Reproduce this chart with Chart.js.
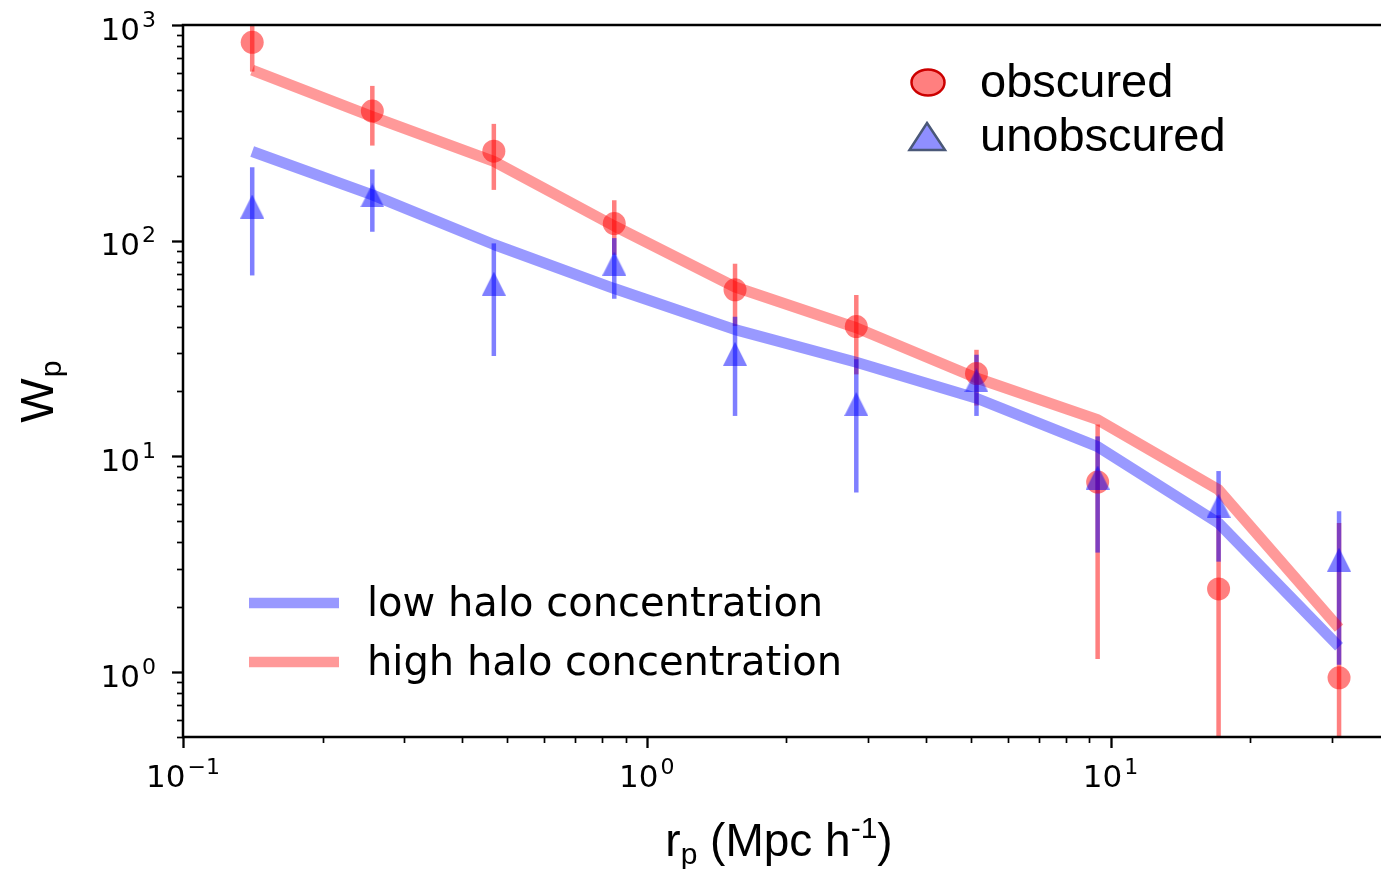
<!DOCTYPE html>
<html>
<head>
<meta charset="utf-8">
<title>Projected correlation function</title>
<script src="https://cdn.jsdelivr.net/npm/chart.js@4/dist/chart.umd.min.js"></script>
<style>
  html, body { margin: 0; padding: 0; background: #ffffff; }
  canvas { display: block; }
</style>
</head>
<body>
<canvas id="c" width="1381" height="869"></canvas>
<script>
// projected separation bins, r_p in Mpc/h
const rp = [0.141, 0.256, 0.468, 0.851, 1.55, 2.83, 5.14, 9.38, 17.1, 31.1];

// measured w_p and 1-sigma errors
const wpObscured    = [831, 399, 260, 120, 59.2, 40.0, 24.2, 7.6, 2.43, 0.94];
const errObscured   = [223, 123, 88, 34, 19, 16, 7.0, 6.45, 2.9, 3.97];
const wpUnobscured  = [144, 162, 63.2, 78.3, 29.9, 17.5, 22.5, 7.98, 5.9, 3.32];
const errUnobscured = [75, 52, 34, 24.5, 14.5, 10.7, 7.1, 4.4, 2.65, 2.24];

// halo model predictions
const wpHighConc = [618, 376, 233, 117, 61, 39.5, 23.1, 14.8, 7.0, 1.6];
const wpLowConc  = [259, 163, 96, 60, 38.7, 27.3, 18.6, 11.1, 4.9, 1.31];

// axis ranges and decade tick labels
const xRange = [0.1, 38.3];
const yRange = [0.5, 1000];
const xDecades = [-1, 0, 1];
const yDecades = [0, 1, 2, 3];

const pts = (xs, ys) => xs.map((x, i) => ({ x: x, y: ys[i] }));

function triangleMarker(size, fill) {
  const c = document.createElement('canvas');
  c.width = size; c.height = size;
  const g = c.getContext('2d');
  g.fillStyle = fill;
  g.beginPath();
  g.moveTo(size / 2, 0);
  g.lineTo(size, size);
  g.lineTo(0, size);
  g.closePath();
  g.fill();
  return c;
}

const RED_PT = 'rgba(255,0,0,0.5)';
const BLUE_PT = 'rgba(0,0,255,0.5)';
const RED_LN = 'rgba(255,0,0,0.4)';
const BLUE_LN = 'rgba(0,0,255,0.4)';

const errorSets = [
  { values: wpObscured, errs: errObscured, color: RED_PT },
  { values: wpUnobscured, errs: errUnobscured, color: BLUE_PT }
];

function minorValues(lo, hi) {
  const out = [];
  for (let e = -2; e <= 4; e++) {
    for (let m = 1; m <= 9; m++) {
      const v = m * Math.pow(10, e);
      if (v >= lo * 0.9999 && v <= hi * 1.0001) out.push({ v: v, major: m === 1 });
    }
  }
  return out;
}

function drawPow(ctx, exp, x, y, align) {
  const base = 31, sup = 22, gap = 2, raise = 13;
  ctx.font = base + 'px "DejaVu Sans"';
  const wb = ctx.measureText('10').width;
  ctx.font = sup + 'px "DejaVu Sans"';
  const ws = ctx.measureText(exp).width;
  const total = wb + gap + ws;
  const x0 = align === 'center' ? x - total / 2 : x - total;
  ctx.textAlign = 'left';
  ctx.textBaseline = 'alphabetic';
  ctx.font = base + 'px "DejaVu Sans"';
  ctx.fillText('10', x0, y);
  ctx.font = sup + 'px "DejaVu Sans"';
  ctx.fillText(exp, x0 + wb + gap, y - raise);
}

const expText = e => (e < 0 ? '\u2212' + Math.abs(e) : String(e));

const decor = {
  id: 'decor',
  beforeDatasetsDraw(chart) {
    const ctx = chart.ctx, a = chart.chartArea;
    const xs = chart.scales.x, ys = chart.scales.y;
    ctx.save();
    ctx.beginPath();
    ctx.rect(a.left, a.top, a.right - a.left, a.bottom - a.top);
    ctx.clip();
    ctx.lineWidth = 4.5;
    ctx.lineCap = 'butt';
    errorSets.forEach(s => {
      ctx.strokeStyle = s.color;
      s.values.forEach((v, i) => {
        const px = xs.getPixelForValue(rp[i]);
        const hi = v + s.errs[i];
        const lo = v - s.errs[i];
        const pyHi = ys.getPixelForValue(hi);
        const pyLo = lo > 0 ? ys.getPixelForValue(lo) : a.bottom + 10;
        ctx.beginPath();
        ctx.moveTo(px, pyLo);
        ctx.lineTo(px, pyHi);
        ctx.stroke();
      });
    });
    ctx.restore();
  },
  afterDraw(chart) {
    const ctx = chart.ctx, a = chart.chartArea;
    const xs = chart.scales.x, ys = chart.scales.y;
    ctx.save();
    ctx.strokeStyle = '#000';
    ctx.fillStyle = '#000';

    // spines: left, bottom, top
    ctx.lineWidth = 2.5;
    ctx.lineCap = 'square';
    ctx.beginPath();
    ctx.moveTo(a.right + 2, a.top);
    ctx.lineTo(a.left, a.top);
    ctx.lineTo(a.left, a.bottom);
    ctx.lineTo(a.right + 2, a.bottom);
    ctx.stroke();
    ctx.lineCap = 'butt';

    // y ticks
    minorValues(yRange[0], yRange[1]).forEach(t => {
      const py = Math.round(ys.getPixelForValue(t.v)) + 0.5;
      ctx.lineWidth = t.major ? 2.3 : 1.7;
      ctx.beginPath();
      ctx.moveTo(a.left, py);
      ctx.lineTo(a.left - (t.major ? 11 : 6), py);
      ctx.stroke();
    });
    // x ticks
    minorValues(xRange[0], xRange[1]).forEach(t => {
      const px = Math.round(xs.getPixelForValue(t.v)) + 0.5;
      ctx.lineWidth = t.major ? 2.3 : 1.7;
      ctx.beginPath();
      ctx.moveTo(px, a.bottom);
      ctx.lineTo(px, a.bottom + (t.major ? 11 : 6));
      ctx.stroke();
    });

    // decade tick labels
    yDecades.forEach(e => {
      const py = ys.getPixelForValue(Math.pow(10, e));
      drawPow(ctx, expText(e), 156, py + 14.7, 'right');
    });
    xDecades.forEach(e => {
      const px = xs.getPixelForValue(Math.pow(10, e));
      drawPow(ctx, expText(e), px, a.bottom + 50, 'center');
    });

    // x axis title: r_p (Mpc h^-1)
    const big = '46px "Liberation Sans"', small = '30px "Liberation Sans"';
    const parts = [
      { t: 'r', f: big, dy: 0 },
      { t: 'p', f: small, dy: 8 },
      { t: ' (Mpc h', f: big, dy: 0 },
      { t: '-1', f: small, dy: -18 },
      { t: ')', f: big, dy: 0 }
    ];
    let tw = 0;
    parts.forEach(p => { ctx.font = p.f; p.w = ctx.measureText(p.t).width; tw += p.w; });
    let cx = (a.left + a.right) / 2 - tw / 2 - 3;
    ctx.textAlign = 'left';
    ctx.textBaseline = 'alphabetic';
    parts.forEach(p => { ctx.font = p.f; ctx.fillText(p.t, cx, 856 + p.dy); cx += p.w; });

    // y axis title: W_p
    ctx.save();
    ctx.translate(53, 422.7);
    ctx.rotate(-Math.PI / 2);
    ctx.font = '47px "Liberation Sans"';
    const ww = ctx.measureText('W').width;
    ctx.fillText('W', 0, 0);
    ctx.font = '30px "Liberation Sans"';
    ctx.fillText('p', ww + 1, 7.5);
    ctx.restore();

    // legend for the measurements
    ctx.lineWidth = 2.5;
    ctx.beginPath();
    ctx.ellipse(928, 82.5, 16.5, 13, 0, 0, Math.PI * 2);
    ctx.fillStyle = 'rgba(255,0,0,0.5)';
    ctx.fill();
    ctx.strokeStyle = '#cc0000';
    ctx.stroke();
    ctx.beginPath();
    ctx.moveTo(927, 123);
    ctx.lineTo(945, 150);
    ctx.lineTo(909.5, 150);
    ctx.closePath();
    ctx.fillStyle = 'rgba(0,0,255,0.44)';
    ctx.fill();
    ctx.strokeStyle = '#4a5878';
    ctx.lineJoin = 'miter';
    ctx.stroke();
    ctx.fillStyle = '#000';
    ctx.font = '47px "Liberation Sans"';
    ctx.fillText('obscured', 980, 97);
    ctx.fillText('unobscured', 980, 151);

    // legend for the halo models
    ctx.lineWidth = 10.5;
    ctx.lineCap = 'butt';
    [[BLUE_LN, 603, 'low halo concentration'], [RED_LN, 662, 'high halo concentration']].forEach(r => {
      ctx.strokeStyle = r[0];
      ctx.beginPath();
      ctx.moveTo(249, r[1]);
      ctx.lineTo(339, r[1]);
      ctx.stroke();
      ctx.fillStyle = '#000';
      ctx.font = '40px "DejaVu Sans"';
      ctx.textBaseline = 'middle';
      ctx.fillText(r[2], 367, r[1] + 3);
    });
    ctx.restore();
  }
};

new Chart(document.getElementById('c'), {
  type: 'scatter',
  data: {
    datasets: [
      {
        label: 'unobscured',
        data: pts(rp, wpUnobscured),
        pointStyle: triangleMarker(24, BLUE_PT),
        pointRadius: 12,
        showLine: false,
        order: 0
      },
      {
        label: 'obscured',
        data: pts(rp, wpObscured),
        pointStyle: 'circle',
        pointRadius: 11.5,
        backgroundColor: RED_PT,
        borderWidth: 0,
        showLine: false,
        order: 1
      },
      {
        label: 'high halo concentration',
        data: pts(rp, wpHighConc),
        showLine: true,
        borderColor: RED_LN,
        borderWidth: 11,
        borderJoinStyle: 'round',
        borderCapStyle: 'butt',
        pointRadius: 0,
        tension: 0,
        order: 2
      },
      {
        label: 'low halo concentration',
        data: pts(rp, wpLowConc),
        showLine: true,
        borderColor: BLUE_LN,
        borderWidth: 11,
        borderJoinStyle: 'round',
        borderCapStyle: 'butt',
        pointRadius: 0,
        tension: 0,
        order: 3
      }
    ]
  },
  options: {
    responsive: false,
    devicePixelRatio: 1,
    animation: false,
    layout: { autoPadding: false, padding: { left: 183, top: 25, right: 0, bottom: 132 } },
    scales: {
      x: { type: 'logarithmic', min: xRange[0], max: xRange[1], display: false },
      y: { type: 'logarithmic', min: yRange[0], max: yRange[1], display: false }
    },
    plugins: {
      legend: { display: false },
      tooltip: { enabled: false }
    },
    events: []
  },
  plugins: [decor]
});
</script>
</body>
</html>
